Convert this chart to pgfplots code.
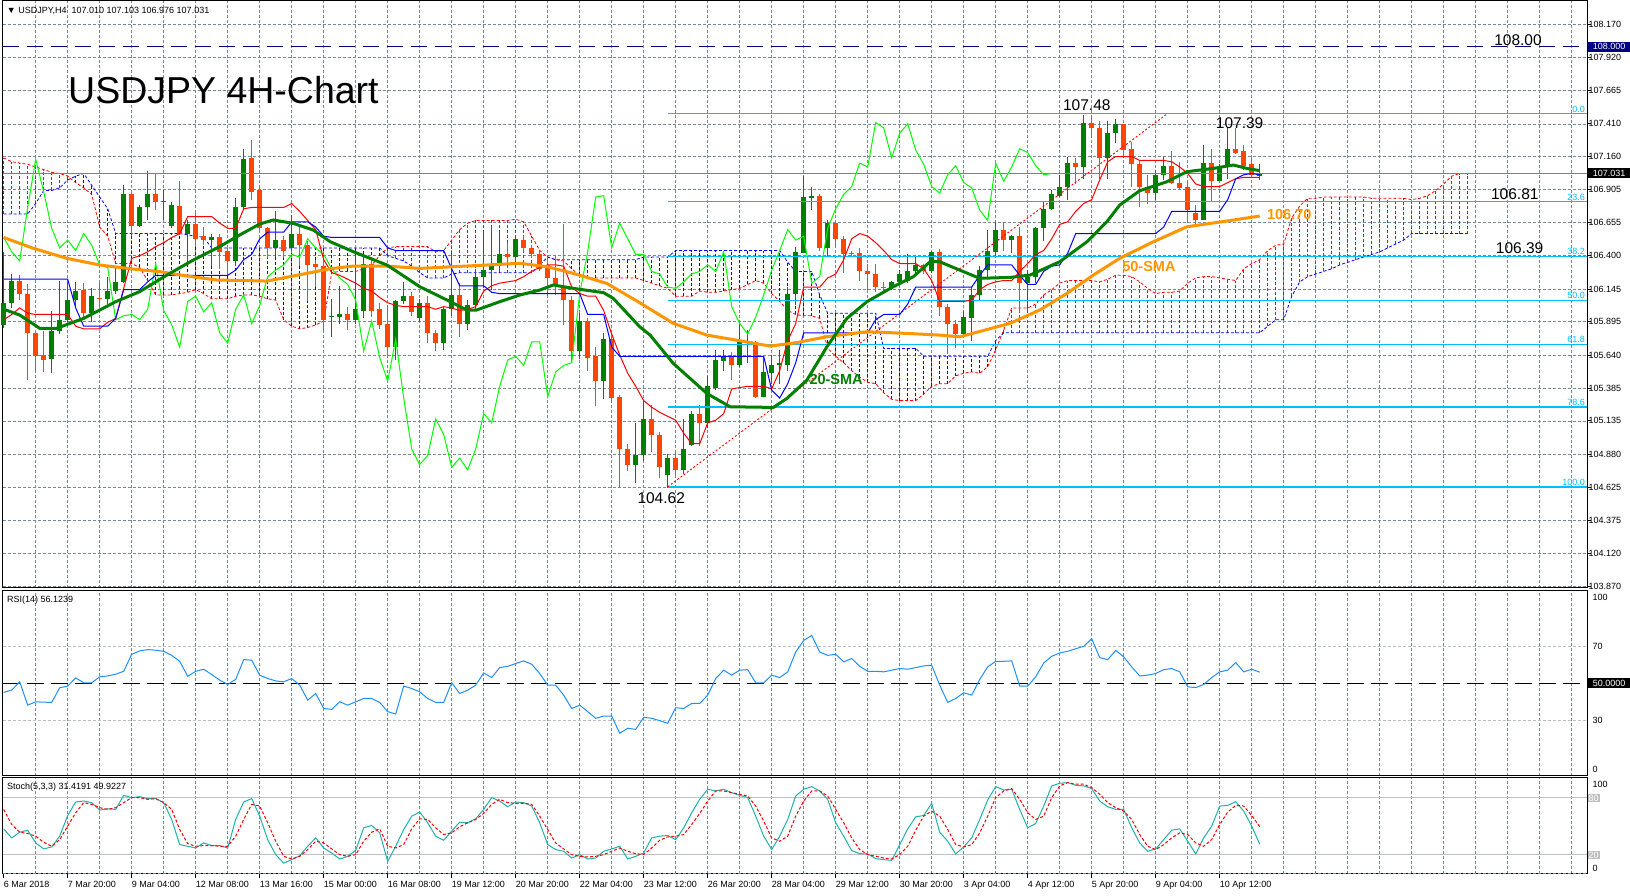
\documentclass[border=0pt]{standalone}
\usepackage{fontspec}
\setmainfont{Liberation Sans}
\usepackage{pgfplots}
\pgfplotsset{compat=1.18}
\usepackage{pgfplotstable}
\definecolor{bull}{RGB}{0,128,0}
\definecolor{bear}{RGB}{255,69,0}
\definecolor{smaor}{RGB}{255,150,0}
\definecolor{gridc}{RGB}{119,136,153}
\definecolor{fibc}{RGB}{0,191,255}
\definecolor{rsic}{RGB}{30,144,255}
\definecolor{stoc}{RGB}{32,178,170}
\definecolor{chik}{RGB}{0,255,0}
\definecolor{navyc}{RGB}{0,0,128}
\definecolor{silverc}{RGB}{192,192,192}
\definecolor{bidc}{RGB}{128,128,128}
\newcommand{\tf}{\fontsize{9}{10}\selectfont}
\newcommand{\bigf}{\fontsize{15.5}{17}\selectfont}
\newcommand{\titlef}{\fontsize{37.5}{40}\selectfont}
\newcommand{\smaf}{\fontsize{14.5}{16}\selectfont\bfseries}

\pgfplotsset{
  panel/.style={scale only axis, width=1584.3pt, xmin=-0.125, xmax=197.91, anchor=south west, clip=false,
    axis line style={black, line width=1pt},
    grid style={gridc, dash pattern=on 3pt off 2pt, line width=0.7pt},
    tick align=outside},
  wick/.style={draw=none, mark=none, forget plot, error bars/y dir=both, error bars/y explicit, error bars/error mark=none, error bars/error bar style={draw=#1, line width=1pt, solid}},
  body/.style={draw=none, mark=none, forget plot, error bars/y dir=plus, error bars/y explicit, error bars/error mark=none, error bars/error bar style={draw=#1, line width=5pt, solid}},
  hatch/.style={draw=none, mark=none, forget plot, error bars/y dir=plus, error bars/y explicit, error bars/error mark=none, error bars/error bar style={draw=#1, line width=0.8pt, dash pattern=on 3pt off 2pt}},
}

\pgfplotstableread{
i lo hi L H
0 105.87 106.04 105.85 106.43
1 106.04 106.21 106.00 106.26
6 105.61 105.82 105.50 105.98
7 105.82 105.91 105.80 106.21
8 105.91 106.06 105.89 106.20
9 106.06 106.13 106.01 106.20
11 105.96 106.09 105.89 106.15
13 106.07 106.13 106.03 106.24
14 106.13 106.20 106.11 106.32
15 106.20 106.87 106.19 106.94
17 106.63 106.77 106.62 106.79
18 106.77 106.87 106.67 107.05
20 106.81 106.82 106.67 106.90
21 106.63 106.79 106.61 106.81
23 106.57 106.64 106.34 106.67
26 106.52 106.54 106.32 106.57
29 106.36 106.77 106.32 106.84
30 106.77 107.14 106.76 107.22
34 106.46 106.52 106.39 106.74
36 106.46 106.57 106.44 106.71
41 105.93 105.94 105.78 106.07
42 105.93 105.95 105.88 106.17
44 105.91 105.99 105.88 106.41
45 105.98 106.34 105.92 106.41
49 105.70 106.05 105.60 106.06
50 106.05 106.09 106.03 106.20
52 105.92 106.04 105.89 106.07
55 105.73 105.99 105.68 106.01
56 105.99 106.10 105.94 106.41
58 105.88 106.02 105.83 106.06
59 106.02 106.24 105.98 106.30
60 106.24 106.29 106.15 106.60
61 106.29 106.33 106.14 106.61
62 106.32 106.41 106.29 106.60
64 106.39 106.53 106.35 106.56
72 105.67 105.90 105.61 105.96
75 105.44 105.76 105.30 105.81
79 104.80 104.87 104.66 105.12
80 104.87 105.15 104.83 105.29
83 104.72 104.85 104.62 104.88
85 104.76 104.92 104.73 105.15
86 104.95 105.19 104.94 105.21
88 105.12 105.40 105.08 105.48
89 105.39 105.60 105.37 105.68
90 105.59 105.63 105.52 105.68
92 105.56 105.74 105.55 105.89
93 105.73 105.74 105.58 105.83
95 105.32 105.51 105.32 105.63
96 105.50 105.56 105.42 105.64
97 105.56 105.58 105.42 105.68
98 105.56 106.11 105.52 106.16
99 106.11 106.43 106.02 106.47
100 106.42 106.85 106.42 107.01
101 106.84 106.86 106.75 106.93
103 106.46 106.65 106.39 106.67
111 106.15 106.20 106.14 106.21
112 106.20 106.26 106.19 106.29
113 106.21 106.28 106.19 106.41
114 106.28 106.33 106.25 106.39
116 106.28 106.43 106.27 106.44
120 105.80 105.93 105.79 105.98
121 105.92 106.10 105.75 106.16
122 106.10 106.29 106.06 106.32
123 106.29 106.44 106.24 106.60
124 106.43 106.60 106.39 106.66
126 106.52 106.55 106.42 106.56
128 106.19 106.24 105.97 106.29
129 106.24 106.61 106.19 106.62
130 106.61 106.76 106.51 106.81
131 106.76 106.87 106.75 106.90
132 106.86 106.93 106.85 107.02
133 106.93 107.11 106.83 107.16
135 107.08 107.42 106.99 107.48
138 107.15 107.34 106.99 107.43
139 107.34 107.41 107.26 107.45
144 106.88 107.02 106.83 107.06
145 107.02 107.09 106.98 107.16
150 106.67 107.11 106.67 107.25
152 106.97 107.08 106.97 107.10
153 107.08 107.22 106.99 107.39
157 107.01 107.03 106.98 107.10
}\bulltab

\pgfplotstableread{
i lo hi L H
2 106.11 106.21 106.06 106.25
3 105.81 106.11 105.45 106.18
4 105.63 105.81 105.52 105.82
5 105.60 105.64 105.51 105.82
10 105.96 106.14 105.92 106.19
12 106.07 106.08 106.01 106.19
16 106.63 106.87 106.57 106.88
19 106.81 106.87 106.75 107.03
22 106.57 106.78 106.56 106.97
24 106.53 106.64 106.47 106.73
25 106.52 106.55 106.48 106.62
27 106.43 106.54 106.30 106.57
28 106.36 106.44 106.25 106.46
31 106.89 107.15 106.83 107.29
32 106.61 106.90 106.60 106.92
33 106.46 106.61 106.38 106.62
35 106.44 106.52 106.38 106.55
37 106.48 106.57 106.32 106.62
38 106.33 106.48 106.05 106.51
39 106.31 106.34 106.16 106.37
40 105.91 106.32 105.82 106.37
43 105.91 105.95 105.83 106.01
46 105.98 106.34 105.93 106.37
47 105.87 105.99 105.84 106.04
48 105.70 105.88 105.64 106.02
51 105.97 106.09 105.94 106.12
53 105.81 106.04 105.73 106.09
54 105.73 105.81 105.67 105.83
57 105.88 106.10 105.78 106.19
63 106.39 106.41 106.34 106.50
65 106.46 106.52 106.43 106.55
66 106.41 106.46 106.38 106.48
67 106.30 106.41 106.28 106.44
68 106.23 106.33 106.09 106.39
69 106.18 106.23 106.10 106.40
70 106.06 106.16 105.87 106.64
71 105.67 106.06 105.58 106.09
73 105.62 105.90 105.52 105.92
74 105.44 105.63 105.25 105.70
76 105.31 105.76 105.27 105.81
77 104.92 105.32 104.63 105.33
78 104.80 104.92 104.75 104.96
81 105.03 105.15 104.90 105.26
82 104.78 105.03 104.70 105.05
84 104.76 104.85 104.72 104.90
87 105.12 105.19 104.94 105.26
91 105.56 105.63 105.45 105.66
94 105.32 105.74 105.31 105.75
102 106.46 106.86 106.44 106.87
104 106.53 106.65 106.47 106.66
105 106.41 106.53 106.27 106.55
106 106.41 106.42 106.39 106.44
107 106.28 106.42 106.21 106.46
108 106.26 106.28 106.14 106.34
109 106.16 106.26 106.12 106.34
110 106.15 106.16 106.12 106.20
115 106.28 106.33 106.26 106.34
117 106.01 106.43 105.94 106.45
118 105.88 106.01 105.65 106.03
119 105.80 105.88 105.69 105.91
125 106.52 106.60 106.44 106.66
127 106.19 106.55 105.97 106.62
134 107.08 107.11 106.95 107.15
136 107.38 107.42 107.31 107.47
137 107.15 107.38 106.99 107.43
140 107.21 107.41 107.15 107.41
141 107.10 107.22 106.93 107.27
142 106.93 107.10 106.77 107.13
143 106.88 106.93 106.80 107.02
146 106.96 107.09 106.95 107.20
147 106.92 106.96 106.90 107.12
148 106.75 106.93 106.66 106.97
149 106.67 106.73 106.62 106.79
151 106.97 107.11 106.81 107.22
154 107.19 107.22 107.18 107.38
155 107.09 107.20 107.06 107.25
156 107.02 107.10 107.00 107.15
}\beartab

\pgfplotstableread{
i A B
0 107.15 106.72
1 107.12 106.72
2 107.11 106.72
3 107.10 106.72
4 107.08 106.80
5 107.06 106.90
6 107.04 106.90
7 107.03 106.92
8 107.01 106.98
9 106.96 107.01
10 106.92 107.03
11 106.87 106.94
12 106.62 106.85
13 106.55 106.76
14 106.34 106.57
15 106.34 106.57
16 106.34 106.57
17 106.31 106.57
18 106.21 106.57
19 106.10 106.57
20 106.10 106.57
21 106.10 106.57
22 106.11 106.57
23 106.12 106.56
24 106.14 106.55
25 106.11 106.54
26 106.07 106.46
27 106.07 106.46
28 106.07 106.46
29 106.09 106.46
30 106.10 106.46
31 106.10 106.46
32 106.09 106.46
33 106.07 106.46
34 106.06 106.46
35 105.91 106.46
36 105.86 106.46
37 105.84 106.46
38 105.85 106.46
39 105.87 106.46
40 105.90 106.46
41 106.27 106.46
42 106.28 106.46
43 106.28 106.46
44 106.28 106.46
45 106.30 106.46
46 106.33 106.46
47 106.40 106.46
48 106.46 106.40
49 106.47 106.38
50 106.47 106.36
51 106.47 106.32
52 106.47 106.27
53 106.47 106.23
54 106.43 106.23
55 106.44 106.23
56 106.52 106.26
57 106.60 106.27
58 106.65 106.27
59 106.67 106.27
60 106.67 106.27
61 106.67 106.27
62 106.67 106.27
63 106.67 106.27
64 106.68 106.27
65 106.66 106.27
66 106.55 106.27
67 106.44 106.33
68 106.39 106.39
69 106.37 106.37
70 106.36 106.37
71 106.30 106.37
72 106.25 106.37
73 106.23 106.37
74 106.23 106.37
75 106.23 106.37
76 106.23 106.37
77 106.23 106.37
78 106.23 106.37
79 106.23 106.37
80 106.21 106.39
81 106.19 106.39
82 106.17 106.39
83 106.15 106.39
84 106.09 106.44
85 106.09 106.44
86 106.09 106.44
87 106.13 106.44
88 106.12 106.44
89 106.12 106.44
90 106.13 106.44
91 106.14 106.44
92 106.15 106.44
93 106.18 106.44
94 106.21 106.44
95 106.19 106.44
96 106.11 106.44
97 106.05 106.44
98 105.98 106.35
99 105.95 106.28
100 105.94 106.28
101 105.94 106.28
102 105.92 106.10
103 105.69 105.96
104 105.63 105.96
105 105.58 105.96
106 105.52 105.96
107 105.47 105.96
108 105.43 105.96
109 105.42 105.96
110 105.35 105.69
111 105.30 105.69
112 105.29 105.69
113 105.29 105.69
114 105.29 105.69
115 105.34 105.63
116 105.40 105.63
117 105.42 105.63
118 105.42 105.63
119 105.48 105.63
120 105.50 105.63
121 105.51 105.63
122 105.50 105.63
123 105.55 105.63
124 105.68 105.75
125 105.83 105.81
126 106.00 105.81
127 106.00 105.81
128 106.00 105.81
129 106.03 105.81
130 106.10 105.81
131 106.14 105.81
132 106.19 105.81
133 106.21 105.81
134 106.21 105.81
135 106.21 105.81
136 106.21 105.81
137 106.20 105.81
138 106.22 105.81
139 106.25 105.81
140 106.25 105.81
141 106.24 105.81
142 106.20 105.81
143 106.15 105.81
144 106.11 105.81
145 106.12 105.81
146 106.12 105.81
147 106.13 105.81
148 106.19 105.81
149 106.23 105.81
150 106.24 105.81
151 106.24 105.81
152 106.23 105.81
153 106.22 105.81
154 106.21 105.81
155 106.30 105.81
156 106.34 105.81
157 106.37 105.81
158 106.44 105.86
159 106.48 105.91
160 106.49 105.91
161 106.69 106.09
162 106.78 106.20
163 106.84 106.24
164 106.84 106.26
165 106.85 106.28
166 106.85 106.30
167 106.85 106.33
168 106.85 106.35
169 106.85 106.37
170 106.85 106.39
171 106.84 106.41
172 106.84 106.43
173 106.84 106.46
174 106.84 106.49
175 106.84 106.52
176 106.83 106.57
177 106.84 106.57
178 106.86 106.57
179 106.90 106.57
180 106.95 106.57
181 107.01 106.57
182 107.03 106.57
183 107.03 106.57
}\cloudtab

\pgfplotstableread{
i T K
0 105.91 106.22
1 105.95 106.22
2 106.00 106.22
3 105.96 106.22
4 105.95 106.22
5 105.95 106.22
6 105.95 106.22
7 105.95 106.22
8 105.95 106.22
9 105.86 106.00
10 105.84 105.86
11 105.84 105.86
12 105.84 105.86
13 105.89 105.86
14 105.92 105.92
15 106.15 106.14
16 106.38 106.14
17 106.40 106.14
18 106.43 106.20
19 106.47 106.25
20 106.50 106.25
21 106.54 106.25
22 106.57 106.25
23 106.70 106.25
24 106.70 106.25
25 106.70 106.25
26 106.70 106.25
27 106.65 106.25
28 106.61 106.25
29 106.61 106.29
30 106.76 106.37
31 106.77 106.41
32 106.77 106.53
33 106.77 106.58
34 106.77 106.58
35 106.77 106.58
36 106.80 106.66
37 106.74 106.66
38 106.67 106.66
39 106.60 106.62
40 106.37 106.55
41 106.27 106.54
42 106.25 106.54
43 106.22 106.54
44 106.19 106.54
45 106.15 106.54
46 106.13 106.54
47 106.08 106.54
48 106.04 106.46
49 106.02 106.44
50 106.01 106.44
51 106.01 106.44
52 106.01 106.44
53 106.01 106.44
54 105.99 106.44
55 106.01 106.44
56 106.00 106.30
57 105.98 106.17
58 105.99 106.17
59 106.01 106.17
60 106.13 106.17
61 106.17 106.12
62 106.19 106.11
63 106.20 106.11
64 106.21 106.11
65 106.24 106.11
66 106.28 106.11
67 106.31 106.11
68 106.33 106.11
69 106.33 106.11
70 106.32 106.11
71 106.16 106.11
72 106.11 106.11
73 106.09 105.95
74 106.09 105.95
75 105.98 105.95
76 105.80 105.70
77 105.64 105.63
78 105.50 105.63
79 105.40 105.63
80 105.29 105.63
81 105.24 105.63
82 105.20 105.63
83 105.17 105.63
84 105.14 105.63
85 105.04 105.63
86 104.96 105.63
87 104.96 105.63
88 105.12 105.63
89 105.14 105.63
90 105.19 105.63
91 105.38 105.63
92 105.39 105.63
93 105.40 105.63
94 105.40 105.63
95 105.40 105.63
96 105.38 105.37
97 105.52 105.31
98 105.75 105.42
99 105.88 105.58
100 106.16 105.81
101 106.16 105.81
102 106.16 105.81
103 106.23 105.81
104 106.26 105.81
105 106.37 105.81
106 106.53 105.81
107 106.57 105.81
108 106.55 105.81
109 106.50 105.91
110 106.44 105.95
111 106.37 105.95
112 106.34 105.95
113 106.34 106.03
114 106.34 106.16
115 106.30 106.16
116 106.21 106.16
117 106.05 106.16
118 106.05 106.16
119 106.05 106.16
120 106.05 106.16
121 106.06 106.16
122 106.14 106.25
123 106.18 106.33
124 106.20 106.33
125 106.21 106.33
126 106.21 106.33
127 106.28 106.25
128 106.34 106.18
129 106.41 106.18
130 106.44 106.28
131 106.53 106.32
132 106.64 106.33
133 106.66 106.42
134 106.74 106.57
135 106.80 106.57
136 106.83 106.57
137 106.98 106.57
138 107.12 106.57
139 107.16 106.57
140 107.16 106.57
141 107.16 106.57
142 107.13 106.57
143 107.13 106.57
144 107.13 106.57
145 107.13 106.62
146 107.12 106.74
147 107.08 106.74
148 107.03 106.74
149 106.95 106.74
150 106.93 106.74
151 106.93 106.74
152 106.93 106.74
153 106.96 106.83
154 106.99 106.99
155 107.00 107.02
156 107.00 107.03
157 107.00 107.02
}\ichitab

\pgfplotstableread{
i C
0 106.54
1 106.43
2 106.36
3 106.77
4 107.14
5 106.89
6 106.61
7 106.46
8 106.52
9 106.44
10 106.57
11 106.48
12 106.33
13 106.31
14 105.91
15 105.94
16 105.95
17 105.91
18 105.99
19 106.34
20 105.98
21 105.87
22 105.70
23 106.05
24 106.09
25 105.97
26 106.04
27 105.81
28 105.73
29 105.99
30 106.10
31 105.88
32 106.02
33 106.24
34 106.29
35 106.33
36 106.41
37 106.39
38 106.53
39 106.46
40 106.41
41 106.30
42 106.23
43 106.18
44 106.06
45 105.67
46 105.90
47 105.62
48 105.44
49 105.76
50 105.31
51 104.92
52 104.80
53 104.87
54 105.15
55 105.03
56 104.78
57 104.85
58 104.76
59 104.92
60 105.19
61 105.12
62 105.40
63 105.60
64 105.63
65 105.56
66 105.74
67 105.74
68 105.32
69 105.51
70 105.56
71 105.58
72 106.11
73 106.43
74 106.85
75 106.86
76 106.46
77 106.65
78 106.53
79 106.41
80 106.41
81 106.28
82 106.26
83 106.16
84 106.15
85 106.20
86 106.26
87 106.28
88 106.33
89 106.28
90 106.43
91 106.01
92 105.88
93 105.80
94 105.93
95 106.10
96 106.29
97 106.44
98 106.60
99 106.52
100 106.55
101 106.19
102 106.24
103 106.61
104 106.76
105 106.87
106 106.93
107 107.11
108 107.08
109 107.42
110 107.38
111 107.15
112 107.34
113 107.41
114 107.21
115 107.10
116 106.93
117 106.88
118 107.02
119 107.09
120 106.96
121 106.92
122 106.75
123 106.67
124 107.11
125 106.97
126 107.08
127 107.22
128 107.19
129 107.09
130 107.02
131 107.03
}\chiktab

\pgfplotstableread{
x y
0 105.99
2 105.946
4.5 105.844
6.6 105.844
10 105.92
14 106.048
17 106.125
20.4 106.252
23.7 106.367
27 106.47
29.5 106.559
32 106.643
33.7 106.674
36.2 106.648
38.7 106.597
40.8 106.508
43.7 106.431
47.9 106.329
49.5 106.265
52 106.163
55.4 106.061
57.9 105.984
59.1 105.984
62 106.048
64.5 106.099
67 106.137
68.7 106.176
71.2 106.150
75 106.117
76.2 106.073
79.5 105.856
80.8 105.792
83.7 105.575
87.9 105.345
90.8 105.243
96.2 105.238
97.9 105.307
100.4 105.447
102.9 105.703
105.4 105.920
107.9 106.048
111.2 106.163
113.7 106.239
115.8 106.354
117 106.354
119.5 106.290
122 106.227
125.8 106.234
128.3 106.252
132 106.354
135.4 106.507
137.9 106.661
139.5 106.788
142 106.898
145.4 106.967
147.9 107.044
151.2 107.069
153.7 107.095
155.4 107.069
157 107.052
}\smatwenty

\pgfplotstableread{
x y
0 106.54
3.7 106.457
7.9 106.380
12 106.329
16.2 106.298
19.5 106.278
22.9 106.245
26.6 106.214
30.8 106.209
32.9 106.206
36.2 106.245
40.8 106.300
43.7 106.321
47.9 106.321
52 106.303
56.2 106.316
60.4 106.329
64.5 106.342
67.9 106.316
71.2 106.265
75.4 106.188
79.5 106.040
83.7 105.882
87.9 105.792
92 105.749
95.8 105.708
99.1 105.734
102.9 105.780
107.9 105.818
112.9 105.805
117 105.792
119.5 105.779
125.8 105.882
129.5 105.984
132.9 106.111
136.2 106.252
139.5 106.380
143.7 106.507
147.9 106.622
152.9 106.666
157 106.704
}\smafifty

\pgfplotstableread{
i r
0 45.2
1 46.4
2 50.9
3 38.3
4 40.1
5 39.9
6 39.8
7 47.7
8 48.6
9 53.0
10 50.4
11 50.4
12 53.6
13 54.1
14 55.0
15 56.6
16 65.8
17 67.6
18 68.3
19 68.0
20 67.4
21 65.2
22 62.0
23 53.9
24 56.6
25 57.7
26 54.8
27 51.8
28 49.5
29 52.2
30 62.9
31 62.6
32 54.5
33 52.7
34 51.4
35 50.9
36 52.7
37 49.1
38 41.0
39 44.6
40 36.5
41 36.0
42 40.1
43 38.3
44 40.1
45 41.9
46 41.9
47 39.8
48 34.8
49 33.5
50 48.6
51 47.3
52 45.5
53 41.9
54 39.8
55 39.8
56 50.4
57 44.6
58 46.4
59 49.1
60 55.7
61 53.2
62 58.6
63 59.3
64 60.8
65 62.2
66 60.4
67 55.4
68 49.1
69 49.1
70 43.7
71 36.5
72 38.3
73 34.8
74 31.2
75 32.4
76 32.4
77 23.1
78 25.8
79 25.2
80 31.7
81 31.2
82 29.9
83 28.5
84 36.9
85 36.5
86 39.2
87 39.2
88 43.7
89 52.7
90 57.2
91 54.5
92 57.2
93 57.5
94 50.4
95 50.4
96 54.5
97 53.2
98 56.3
99 67.0
100 73.3
101 76.0
102 67.0
103 65.2
104 65.8
105 61.7
106 63.5
107 59.3
108 56.6
109 56.6
110 56.3
111 57.2
112 58.1
113 57.7
114 58.6
115 59.5
116 59.9
117 49.1
118 39.8
119 41.9
120 45.0
121 43.7
122 52.2
123 59.0
124 62.0
125 62.0
126 62.2
127 48.6
128 48.6
129 53.6
130 61.1
131 64.7
132 66.5
133 67.4
134 68.8
135 70.1
136 74.2
137 64.0
138 62.9
139 67.9
140 64.4
141 59.0
142 54.1
143 54.5
144 55.4
145 57.5
146 58.1
147 56.3
148 48.2
149 47.8
150 49.5
151 53.2
152 56.3
153 57.2
154 61.3
155 56.3
156 57.7
157 56.1
}\rsitab

\pgfplotstableread{
i k d
0 47.5 68.0
1 38.0 52.1
2 44.0 44.0
3 46.1 42.6
4 32.7 39.8
5 26.4 33.4
6 28.5 29.2
7 39.8 36.2
8 61.6 50.4
9 75.8 64.5
10 76.8 75.1
11 75.1 73.3
12 67.3 69.8
13 68.7 68.0
14 68.0 69.8
15 82.8 75.1
16 80.4 80.4
17 81.4 80.4
18 79.3 78.6
19 79.3 79.3
20 75.1 75.1
21 57.4 68.0
22 30.9 46.8
23 29.2 32.0
24 27.4 29.2
25 32.7 29.9
26 29.9 29.9
27 29.9 29.2
28 27.4 29.2
29 57.4 39.8
30 75.8 57.4
31 79.3 73.3
32 60.9 71.5
33 36.2 53.9
34 20.4 34.5
35 11.5 18.6
36 15.1 15.8
37 19.3 18.6
38 29.2 25.7
39 38.0 34.5
40 27.4 32.7
41 22.1 26.4
42 15.8 20.4
43 18.6 18.6
44 24.9 20.4
45 48.6 34.5
46 51.1 44.0
47 43.3 47.5
48 13.3 29.2
49 29.2 27.4
50 46.8 30.9
51 60.9 47.5
52 65.2 58.1
53 53.9 57.4
54 39.8 48.6
55 35.5 41.5
56 45.1 43.3
57 54.6 49.7
58 53.9 53.9
59 58.1 57.4
60 68.0 63.8
61 80.4 73.3
62 76.8 78.6
63 70.8 75.1
64 75.8 74.4
65 75.1 74.4
66 71.5 73.3
67 53.9 60.9
68 30.9 46.8
69 25.7 32.7
70 23.9 26.4
71 16.8 20.4
72 20.4 18.6
73 15.8 17.9
74 16.8 18.6
75 23.9 20.4
76 26.4 23.9
77 29.2 27.4
78 15.8 23.9
79 18.6 21.4
80 22.1 20.4
81 38.0 27.4
82 39.8 35.5
83 40.5 39.1
84 36.2 39.8
85 48.6 41.5
86 64.5 52.1
87 78.6 63.8
88 89.2 76.8
89 87.4 87.4
90 89.2 87.4
91 85.6 85.6
92 82.8 83.9
93 80.4 82.1
94 60.9 71.5
95 39.8 55.6
96 25.7 38.0
97 39.8 34.5
98 57.4 39.8
99 82.1 60.9
100 89.2 76.8
101 92.0 87.4
102 87.4 87.4
103 78.6 82.1
104 53.9 68.0
105 39.8 53.9
106 24.6 38.0
107 21.4 25.7
108 21.1 20.4
109 16.1 18.6
110 15.1 16.8
111 14.4 15.8
112 30.9 20.4
113 47.5 29.2
114 60.2 46.1
115 61.6 60.9
116 74.4 66.2
117 44.0 60.9
118 34.5 46.8
119 21.1 30.9
120 28.5 28.5
121 38.0 30.9
122 57.4 43.3
123 77.9 60.9
124 92.0 80.4
125 88.5 87.4
126 89.2 89.9
127 68.0 78.6
128 48.6 64.5
129 53.2 57.4
130 71.5 60.9
131 92.7 80.4
132 95.5 92.7
133 96.2 96.2
134 93.4 94.5
135 92.7 94.5
136 89.9 90.9
137 76.8 83.9
138 70.8 75.1
139 68.0 69.8
140 68.0 66.2
141 48.6 57.4
142 32.7 41.5
143 23.9 29.2
144 26.4 25.7
145 36.2 30.9
146 46.1 38.0
147 47.5 43.3
148 34.5 41.5
149 21.1 32.7
150 38.0 29.2
151 50.4 36.2
152 71.5 52.1
153 72.2 65.2
154 76.1 72.2
155 66.2 71.5
156 50.4 61.6
157 31.4 49.9
}\stotab

\begin{document}
\begin{tikzpicture}
\useasboundingbox (0pt,0pt) rectangle (1630pt,896pt);
\fill[white] (0pt,0pt) rectangle (1630pt,896pt);

\begin{axis}[panel, at={(2.7pt,308pt)}, height=587pt,
  ymin=103.8547, ymax=108.3516,
  xtick={4,8,...,196}, xticklabels={}, xtick style={draw=none},
  ytick={103.870,104.120,104.375,104.625,104.880,105.135,105.385,105.640,105.895,106.145,106.400,106.655,106.905,107.160,107.410,107.665,107.920,108.170},
  yticklabels={103.870,104.120,104.375,104.625,104.880,105.135,105.385,105.640,105.895,106.145,106.400,106.655,106.905,107.160,107.410,107.665,107.920,108.170},
  ytick pos=right, yticklabel pos=right,
  ytick style={black, line width=0.8pt}, major tick length=4pt,
  yticklabel style={font=\tf, anchor=west, inner sep=0pt, xshift=-2.5pt},
  xmajorgrids, ymajorgrids]

\addplot[navyc, dash pattern=on 16pt off 8pt, line width=1pt, forget plot] coordinates {(-0.125,108) (197.91,108)};

\addplot[hatch=red] table[x=i, y=B, y error plus expr={max(\thisrow{A}-\thisrow{B},0)}] {\cloudtab};
\addplot[hatch=blue] table[x=i, y=A, y error plus expr={max(\thisrow{B}-\thisrow{A},0)}] {\cloudtab};
\addplot[red, dash pattern=on 3pt off 2pt, line width=0.8pt, forget plot] table[x=i, y=A] {\cloudtab};
\addplot[blue, dash pattern=on 3pt off 2pt, line width=0.8pt, forget plot] table[x=i, y=B] {\cloudtab};

\addplot[wick=bull] table[x=i, y=lo, y error plus expr=\thisrow{H}-\thisrow{lo}, y error minus expr=\thisrow{lo}-\thisrow{L}] {\bulltab};
\addplot[body=bull] table[x=i, y=lo, y error plus expr=\thisrow{hi}-\thisrow{lo}] {\bulltab};
\addplot[wick=bear] table[x=i, y=lo, y error plus expr=\thisrow{H}-\thisrow{lo}, y error minus expr=\thisrow{lo}-\thisrow{L}] {\beartab};
\addplot[body=bear] table[x=i, y=lo, y error plus expr=\thisrow{hi}-\thisrow{lo}] {\beartab};

\addplot[fibc, line width=1.2pt, forget plot] coordinates {(83,107.49) (197.91,107.49)};
\addplot[fibc, line width=1.2pt, forget plot] coordinates {(83,106.815) (197.91,106.815)};
\addplot[fibc, line width=1.2pt, forget plot] coordinates {(83,106.397) (197.91,106.397)};
\addplot[fibc, line width=1.2pt, forget plot] coordinates {(83,106.06) (197.91,106.06)};
\addplot[fibc, line width=1.2pt, forget plot] coordinates {(83,105.722) (197.91,105.722)};
\addplot[fibc, line width=1.2pt, forget plot] coordinates {(83,105.241) (197.91,105.241)};
\addplot[fibc, line width=1.2pt, forget plot] coordinates {(83,104.628) (197.91,104.628)};
\addplot[red, dash pattern=on 2pt off 2pt, line width=0.9pt, forget plot] coordinates {(83,104.63) (145.5,107.49)};

\addplot[bidc, line width=1pt, forget plot] coordinates {(-0.125,107.031) (197.91,107.031)};

\addplot[chik, line width=1pt, forget plot] table[x=i, y=C] {\chiktab};
\addplot[red, line width=1pt, forget plot] table[x=i, y=T] {\ichitab};
\addplot[blue, line width=1pt, forget plot] table[x=i, y=K] {\ichitab};

\addplot[smaor, line width=3pt, line join=round, forget plot] table[x=x, y=y] {\smafifty};
\addplot[bull, line width=3pt, line join=round, forget plot] table[x=x, y=y] {\smatwenty};

\node[anchor=west, inner sep=0pt, font=\tf] at (axis cs:0.375,108.275) {▼ USDJPY,H4\ \ 107.010 107.103 106.976 107.031};
\node[anchor=base west, inner sep=0pt, font=\titlef] at (axis cs:8.04,107.5625) {USDJPY 4H-Chart};
\node[anchor=base west, inner sep=0pt, font=\bigf] at (axis cs:132.4,107.511) {107.48};
\node[anchor=base west, inner sep=0pt, font=\bigf] at (axis cs:151.5,107.376) {107.39};
\node[anchor=base west, inner sep=0pt, font=\bigf] at (axis cs:79.2,104.502) {104.62};
\node[anchor=base west, inner sep=0pt, font=\bigf] at (axis cs:186.3,108.014) {108.00};
\node[anchor=base west, inner sep=0pt, font=\bigf] at (axis cs:185.9,106.832) {106.81};
\node[anchor=base west, inner sep=0pt, font=\bigf] at (axis cs:186.5,106.419) {106.39};
\node[anchor=base west, inner sep=0pt, font=\smaf, text=smaor] at (axis cs:157.9,106.674) {106.70};
\node[anchor=base west, inner sep=0pt, font=\smaf, text=smaor] at (axis cs:139.8,106.283) {50-SMA};
\node[anchor=base west, inner sep=0pt, font=\smaf, text=bull] at (axis cs:100.7,105.417) {20-SMA};
\node[anchor=south east, inner sep=1pt, font=\tf, text=fibc] at (axis cs:197.8,107.49) {0.0};
\node[anchor=south east, inner sep=1pt, font=\tf, text=fibc] at (axis cs:197.8,106.815) {23.6};
\node[anchor=south east, inner sep=1pt, font=\tf, text=fibc] at (axis cs:197.8,106.397) {38.2};
\node[anchor=south east, inner sep=1pt, font=\tf, text=fibc] at (axis cs:197.8,106.06) {50.0};
\node[anchor=south east, inner sep=1pt, font=\tf, text=fibc] at (axis cs:197.8,105.722) {61.8};
\node[anchor=south east, inner sep=1pt, font=\tf, text=fibc] at (axis cs:197.8,105.241) {78.6};
\node[anchor=south east, inner sep=1pt, font=\tf, text=fibc] at (axis cs:197.8,104.628) {100.0};
\node[anchor=west, fill=navyc, text=white, font=\tf, inner sep=0pt, minimum width=43pt, minimum height=10pt] at (axis cs:197.97,108) {108.000};
\node[anchor=west, fill=black, text=white, font=\tf, inner sep=0pt, minimum width=43pt, minimum height=10pt] at (axis cs:197.97,107.031) {107.031};
\end{axis}

\begin{axis}[panel, at={(2.7pt,120pt)}, height=185pt, ymin=0, ymax=100,
  xtick={4,8,...,196}, xticklabels={}, xtick style={draw=none},
  ytick=\empty, xmajorgrids]
\addplot[silverc, dash pattern=on 3pt off 2pt, line width=0.8pt, forget plot] coordinates {(-0.125,70) (197.91,70)};
\addplot[silverc, dash pattern=on 3pt off 2pt, line width=0.8pt, forget plot] coordinates {(-0.125,30) (197.91,30)};
\addplot[black, dash pattern=on 17pt off 7pt, line width=1pt, forget plot] coordinates {(-0.125,50) (197.91,50)};
\addplot[rsic, line width=1pt, forget plot] table[x=i, y=r] {\rsitab};
\node[anchor=west, inner sep=0pt, font=\tf] at (axis cs:0.41,95) {RSI(14) 56.1239};
\node[anchor=west, inner sep=0pt, font=\tf] at (axis cs:198.6,96.6) {100};
\node[anchor=west, inner sep=0pt, font=\tf] at (axis cs:198.6,70) {70};
\node[anchor=west, inner sep=0pt, font=\tf] at (axis cs:198.6,30) {30};
\node[anchor=west, inner sep=0pt, font=\tf] at (axis cs:198.6,3.7) {0};
\node[anchor=west, fill=black, text=white, font=\tf, inner sep=0pt, minimum width=43pt, minimum height=10pt] at (axis cs:197.97,50) {50.0000};
\end{axis}

\begin{axis}[panel, at={(2.7pt,22pt)}, height=96.9pt, ymin=0, ymax=102,
  xtick={0,8,...,152},
  xticklabels={6 Mar 2018,7 Mar 20:00,9 Mar 04:00,12 Mar 08:00,13 Mar 16:00,15 Mar 00:00,16 Mar 08:00,19 Mar 12:00,20 Mar 20:00,22 Mar 04:00,23 Mar 12:00,26 Mar 20:00,28 Mar 04:00,29 Mar 12:00,30 Mar 20:00,3 Apr 04:00,4 Apr 12:00,5 Apr 20:00,9 Apr 04:00,10 Apr 12:00},
  minor xtick={4,8,...,196}, xminorgrids, xmajorgrids=false,
  xtick pos=left, major tick length=4pt, minor tick length=0pt,
  xtick style={black, line width=0.8pt},
  xticklabel style={font=\tf, anchor=north west, inner sep=0pt, yshift=-3pt},
  ytick=\empty]
\addplot[silverc, line width=1pt, forget plot] coordinates {(-0.125,80) (197.91,80)};
\addplot[silverc, line width=1pt, forget plot] coordinates {(-0.125,20) (197.91,20)};
\addplot[gridc, dash pattern=on 3pt off 2pt, line width=0.7pt, forget plot] coordinates {(-0.125,1) (197.91,1)};
\addplot[stoc, line width=1pt, forget plot] table[x=i, y=k] {\stotab};
\addplot[red, dash pattern=on 3pt off 2pt, line width=1pt, forget plot] table[x=i, y=d] {\stotab};
\node[anchor=west, inner sep=0pt, font=\tf] at (axis cs:0.41,91.6) {Stoch(5,3,3) 31.4191 49.9227};
\node[anchor=west, inner sep=0pt, font=\tf] at (axis cs:198.6,94.7) {100};
\node[anchor=west, inner sep=0pt, font=\tf] at (axis cs:198.6,6.3) {0};
\node[anchor=west, fill=silverc, text=white, font=\tf, inner sep=1pt] at (axis cs:197.97,80) {80};
\node[anchor=west, fill=silverc, text=white, font=\tf, inner sep=1pt] at (axis cs:197.97,20) {20};
\end{axis}
\end{tikzpicture}
\end{document}
